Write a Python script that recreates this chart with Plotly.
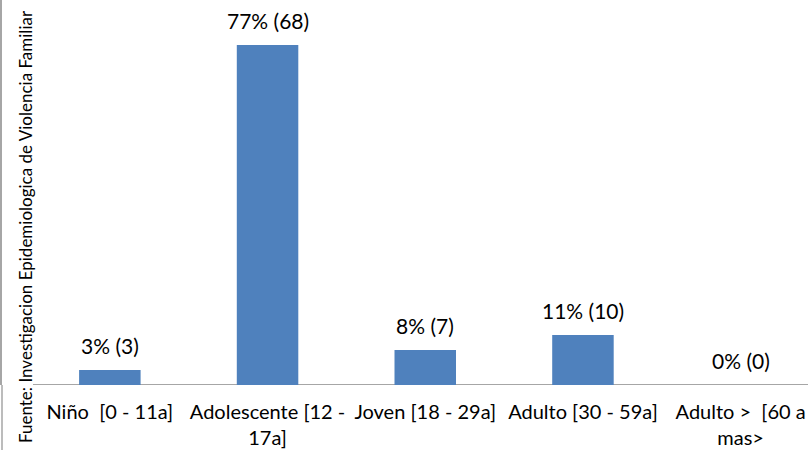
import plotly.graph_objects as go

categories = ["Niño  [0 - 11a]", "Adolescente [12 -<br>17a]", "Joven [18 - 29a]",
              "Adulto [30 - 59a]", "Adulto >  [60 a<br>mas>"]
counts = [3, 68, 7, 10, 0]
percents = ["3%", "77%", "8%", "11%", "0%"]
source_text = "Fuente: Investigacion Epidemiologica de Violencia Familiar"

FONT = "Lato"
W, H = 808, 450
ML, MB = 2, 65
STEP = 157.7          # pixels per category
FIRST = 31            # pixel left edge of first category slot
x = list(range(len(categories)))


def px_to_x(p):
    return (p - FIRST) / STEP - 0.5


fig = go.Figure()
fig.add_trace(go.Bar(
    x=x, y=counts, width=0.39,
    marker=dict(color="#4F81BD", line=dict(width=0)),
    hoverinfo="skip",
))

for xi, c, p in zip(x, counts, percents):
    fig.add_annotation(x=xi, y=c, xref="x", yref="y", text=f"{p} ({c})",
                       showarrow=False, yanchor="bottom", yshift=10,
                       font=dict(family=FONT, size=21, color="#000000"))

plot_h = H - MB
fig.add_annotation(xref="paper", yref="paper", x=(25 - ML) / (W - ML),
                   y=(plot_h - 227) / plot_h, text=source_text, textangle=-90,
                   showarrow=False, xanchor="center", yanchor="middle",
                   font=dict(family=FONT, size=17, color="#000000"))

# baseline (category axis line) starting right of the rotated source text
fig.add_shape(type="line", xref="x", yref="y", layer="below",
              x0=px_to_x(33), x1=px_to_x(W), y0=0, y1=0,
              line=dict(color="#A6A6A6", width=2))
# left border continuing below the plot area
fig.add_shape(type="line", xref="paper", yref="paper",
              x0=0, x1=0, y0=-MB / plot_h, y1=0,
              line=dict(color="#A6A6A6", width=1.5))

fig.update_layout(
    width=W, height=H,
    margin=dict(l=ML, r=0, t=0, b=MB, autoexpand=False),
    paper_bgcolor="white", plot_bgcolor="white",
    showlegend=False,
    font=dict(family=FONT, size=20, color="#000000"),
    xaxis=dict(
        range=[px_to_x(ML), px_to_x(W)],
        tickmode="array", tickvals=x, ticktext=categories,
        showline=False, ticks="", showgrid=False, zeroline=False,
        automargin=False, ticklabelstandoff=13,
        tickfont=dict(family=FONT, size=20, color="#000000"),
    ),
    yaxis=dict(range=[0, 77], showline=True, linecolor="#A6A6A6", linewidth=1.5,
               showticklabels=False, ticks="", showgrid=False, zeroline=False,
               automargin=False),
)

fig.write_html("out.html", config={"displayModeBar": False},
               post_script="document.body.style.margin='0';document.body.style.overflow='hidden';")
